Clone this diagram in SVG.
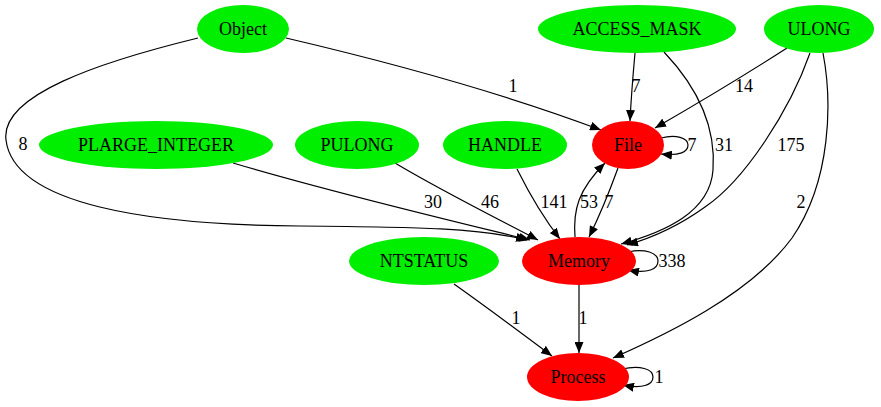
<svg xmlns="http://www.w3.org/2000/svg" width="881" height="407" viewBox="0 0 881 407" font-family="'Liberation Serif', 'DejaVu Serif', 'Times New Roman', serif">
<style>
text{font-family:'Liberation Serif','DejaVu Serif','Times New Roman',serif;font-size:18px;fill:#000}
.n text{text-anchor:middle}
.src{fill:#00ee00;stroke:none}
.dst{fill:#ff0000;stroke:none}
.e path{fill:none;stroke:#000;stroke-width:1.2;marker-end:url(#ah)}
.lbl{text-anchor:middle}
</style>
<defs>
<marker id="ah" viewBox="0 0 11 9" refX="11" refY="4.5" markerWidth="11" markerHeight="9" markerUnits="userSpaceOnUse" orient="auto">
<path d="M0,0 L11,4.5 L0,9 z" fill="#000"/>
</marker>
</defs>
<rect width="881" height="407" fill="#fff"/>
<g id="edges" class="e">
<path d="M286,38 C380,60 500,92 601,130"/>
<path d="M198,38 C100,62 0,95 6,140 C14,205 150,225 300,226 C420,227 480,228 527,240"/>
<path d="M233,163 C330,192 440,218 530,240"/>
<path d="M395,163 C440,190 500,220 538,240"/>
<path d="M517,169 C530,195 545,220 560,239"/>
<path d="M575,237 C573,210 578,190 605,163"/>
<path d="M618,168 C610,190 600,215 589,237"/>
<path d="M661,138 C676,134 688,138 688,145 C688,152 680,156 661,154"/>
<path d="M635,53 C633,75 631,100 630,121"/>
<path d="M664,52 C700,90 716,130 713,170 C710,212 665,232 621,244"/>
<path d="M787,48 C745,75 700,102 655,128"/>
<path d="M810,53 C790,110 745,180 705,207 C680,225 655,237 627,245"/>
<path d="M823,53 C832,100 832,180 792,238 C750,295 665,335 613,358"/>
<path d="M628,252 C645,248 658,253 658,261 C658,269 648,274 628,270"/>
<path d="M579,284 L579,353"/>
<path d="M454,284 C485,306 520,332 552,356"/>
<path d="M622,369 C640,365 653,369 653,377 C653,385 642,389 623,385"/>
</g>
<g id="edge-labels">
<text class="lbl" x="513" y="92">1</text>
<text class="lbl" x="23" y="150">8</text>
<text class="lbl" x="433" y="208">30</text>
<text class="lbl" x="490" y="208">46</text>
<text class="lbl" x="554" y="208">141</text>
<text class="lbl" x="589" y="208">53</text>
<text class="lbl" x="609" y="208">7</text>
<text class="lbl" x="692" y="151">7</text>
<text class="lbl" x="636" y="92">7</text>
<text class="lbl" x="724" y="151">31</text>
<text class="lbl" x="744" y="92">14</text>
<text class="lbl" x="791" y="151">175</text>
<text class="lbl" x="801" y="208">2</text>
<text class="lbl" x="672" y="267">338</text>
<text class="lbl" x="583" y="324">1</text>
<text class="lbl" x="516" y="324">1</text>
<text class="lbl" x="659" y="383">1</text>
</g>
<g id="Object" class="n"><ellipse class="src" cx="243" cy="29" rx="46" ry="24"/><text x="243" y="35">Object</text></g>
<g id="ACCESS_MASK" class="n"><ellipse class="src" cx="637" cy="29" rx="99" ry="24"/><text x="637" y="35">ACCESS_MASK</text></g>
<g id="ULONG" class="n"><ellipse class="src" cx="819" cy="29" rx="55" ry="24"/><text x="819" y="35">ULONG</text></g>
<g id="PLARGE_INTEGER" class="n"><ellipse class="src" cx="156" cy="145" rx="117" ry="24"/><text x="156" y="151">PLARGE_INTEGER</text></g>
<g id="PULONG" class="n"><ellipse class="src" cx="357" cy="145" rx="62" ry="24"/><text x="357" y="151">PULONG</text></g>
<g id="HANDLE" class="n"><ellipse class="src" cx="505" cy="145" rx="62" ry="24"/><text x="505" y="151">HANDLE</text></g>
<g id="File" class="n"><ellipse class="dst" cx="628" cy="145" rx="36" ry="24"/><text x="628" y="151">File</text></g>
<g id="NTSTATUS" class="n"><ellipse class="src" cx="424" cy="261" rx="75" ry="24"/><text x="424" y="267">NTSTATUS</text></g>
<g id="Memory" class="n"><ellipse class="dst" cx="579" cy="261" rx="57" ry="24"/><text x="579" y="267">Memory</text></g>
<g id="Process" class="n"><ellipse class="dst" cx="578" cy="377" rx="51" ry="24"/><text x="578" y="383">Process</text></g>
</svg>
